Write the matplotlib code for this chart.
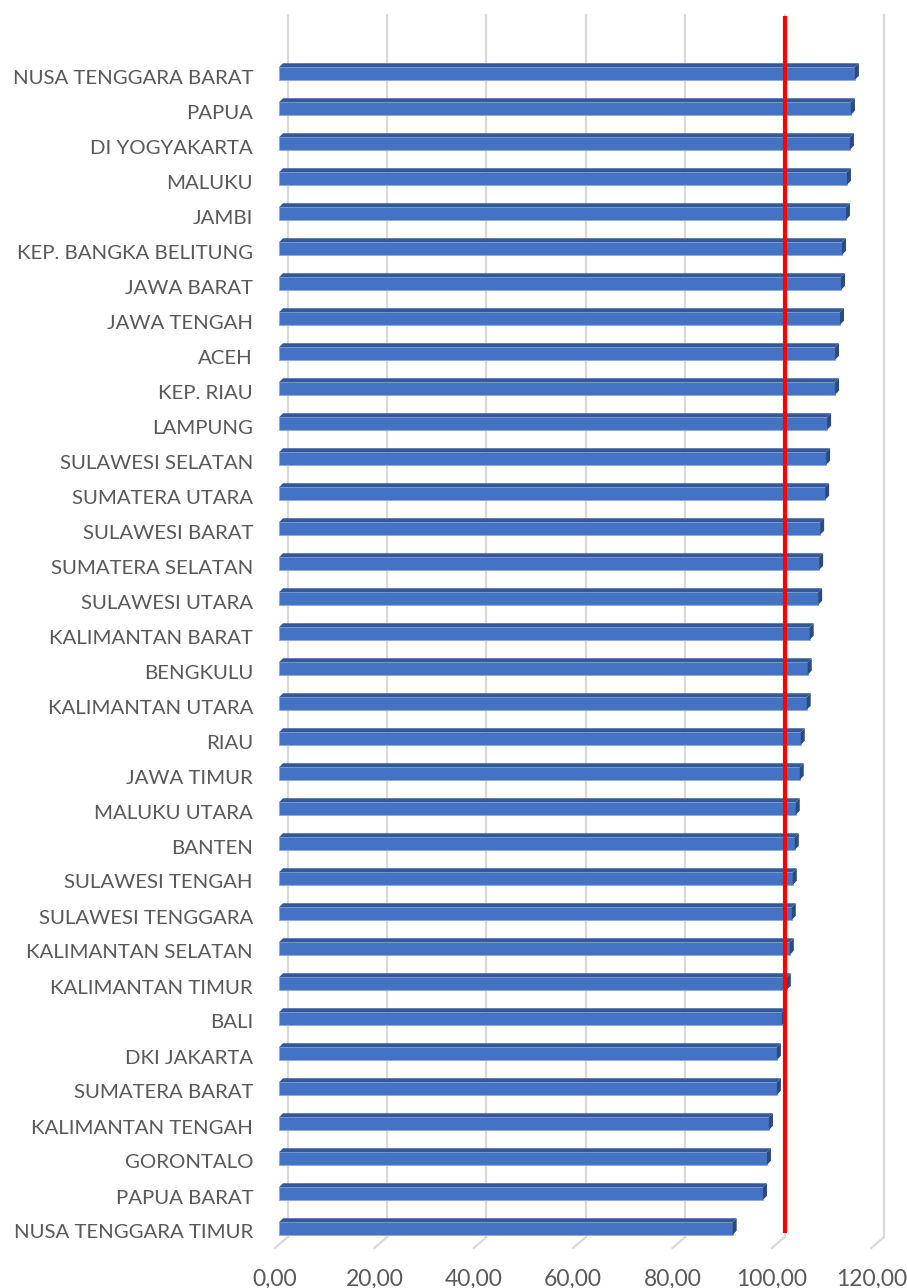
import matplotlib.pyplot as plt
from matplotlib.patches import Polygon
from matplotlib.transforms import offset_copy

# provinces from top to bottom
provinces = ['NUSA TENGGARA BARAT', 'PAPUA', 'DI YOGYAKARTA', 'MALUKU', 'JAMBI',
             'KEP. BANGKA BELITUNG', 'JAWA BARAT', 'JAWA TENGAH', 'ACEH', 'KEP. RIAU',
             'LAMPUNG', 'SULAWESI SELATAN', 'SUMATERA UTARA', 'SULAWESI BARAT',
             'SUMATERA SELATAN', 'SULAWESI UTARA', 'KALIMANTAN BARAT', 'BENGKULU',
             'KALIMANTAN UTARA', 'RIAU', 'JAWA TIMUR', 'MALUKU UTARA', 'BANTEN',
             'SULAWESI TENGAH', 'SULAWESI TENGGARA', 'KALIMANTAN SELATAN',
             'KALIMANTAN TIMUR', 'BALI', 'DKI JAKARTA', 'SUMATERA BARAT',
             'KALIMANTAN TENGAH', 'GORONTALO', 'PAPUA BARAT', 'NUSA TENGGARA TIMUR']
values = [115.9, 115.1, 114.9, 114.3, 114.1, 113.3, 113.1, 112.9, 111.9, 111.9,
          110.3, 110.1, 109.9, 108.9, 108.7, 108.5, 106.8, 106.4, 106.2, 105.0,
          104.8, 104.0, 103.8, 103.4, 103.2, 102.8, 102.2, 101.2, 100.2, 100.2,
          98.6, 98.2, 97.4, 91.3]
threshold = 101.8
ticks = [0, 20, 40, 60, 80, 100, 120]
tick_labels = ['0,00', '20,00', '40,00', '60,00', '80,00', '100,00', '120,00']

W, H = 907, 1288
XPX = 4.969      # pixels per unit on x
YPX = 35.0       # pixels per bar slot
X0 = 279         # pixel of value 0 (front)
Y0 = 1228.5      # pixel of bottom bar centre
xlim = (-2, 125)


def px_y(p):
    # pixel row (from top) -> data y
    return (Y0 - p) / YPX


fig = plt.figure(figsize=(W / 100, H / 100), dpi=100)
left = X0 + xlim[0] * XPX
right = X0 + xlim[1] * XPX
top, bottom = 10, 1280
ax = fig.add_axes([left / W, (H - bottom) / H, (right - left) / W, (bottom - top) / H])
ax.set_xlim(*xlim)
ax.set_ylim(px_y(bottom), px_y(top))
ax.axis('off')

n = len(provinces)
ys = [n - 1 - i for i in range(n)]

# back wall gridlines + floor edge
back = 8.7 / XPX
for t in ticks:
    xb = t + back
    ax.plot([xb, xb], [px_y(14), px_y(1237)], color='#D9D9D9', lw=1.6, zorder=1,
            solid_capstyle='butt')
    ax.plot([xb, xb - 12.7 / XPX], [px_y(1237), px_y(1248)], color='#D9D9D9',
            lw=1.6, zorder=1)

# 3d bars
h = 12.5 / YPX
dx = 4.0 / XPX
dy = 4.0 / YPX
ax.barh(ys, values, height=h, color='#4472C4', edgecolor='#8FAADC', lw=0.6, zorder=3)
for y, v in zip(ys, values):
    yt = y + h / 2
    yb = y - h / 2
    ax.add_patch(Polygon([(0, yt), (v, yt), (v + dx, yt + dy), (dx, yt + dy)],
                         closed=True, fc='#34599A', ec='none', zorder=3))
    ax.add_patch(Polygon([(v, yb), (v, yt), (v + dx, yt + dy), (v + dx, yb + dy)],
                         closed=True, fc='#2B4A80', ec='none', zorder=3))

# red reference line
ax.plot([threshold, threshold], [px_y(16), px_y(1233)], color='#FF0000', lw=3,
        zorder=4, solid_capstyle='butt')

# category labels
lab_tr = offset_copy(ax.get_yaxis_transform(), fig=fig, x=-(left - 253),
                     y=-4.5, units='dots')
for y, name in zip(ys, provinces):
    ax.text(0, y, name, transform=lab_tr, ha='right', va='center',
            fontsize=14.7, color='#595959', family='Lato')

# value axis labels
for t, lab in zip(ticks, tick_labels):
    ax.text(t - 4 / XPX, px_y(1279), lab, ha='center', va='center',
            fontsize=16.5, color='#595959', family='Lato', clip_on=False)

fig.savefig('out.png', dpi=100)
